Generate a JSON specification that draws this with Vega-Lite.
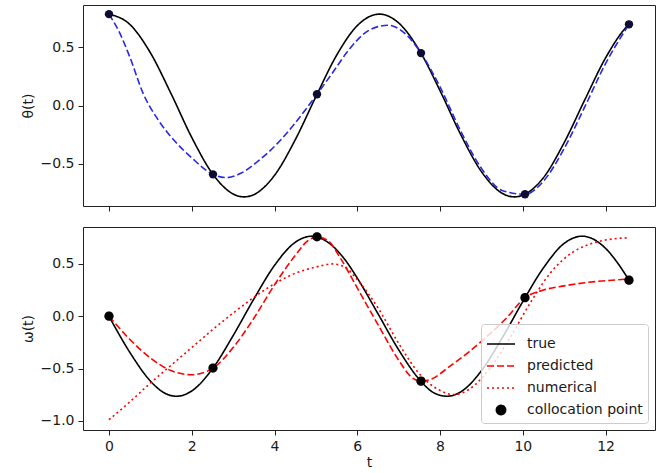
{
  "$schema": "https://vega.github.io/schema/vega-lite/v6.json",
  "padding": {"left": 20, "top": 4, "right": 1, "bottom": 0},
  "spacing": 14,
  "datasets": {
    "theta": [
      {"t": 0, "v": 0.7855, "series": "true"},
      {"t": 0.5, "v": 0.6984, "series": "true"},
      {"t": 1.0, "v": 0.4535, "series": "true"},
      {"t": 1.5, "v": 0.102, "series": "true"},
      {"t": 2.0, "v": -0.2744, "series": "true"},
      {"t": 2.5, "v": -0.5853, "series": "true"},
      {"t": 3.0, "v": -0.7608, "series": "true"},
      {"t": 3.267, "v": -0.7855, "series": "true"},
      {"t": 3.5, "v": -0.7664, "series": "true"},
      {"t": 4.0, "v": -0.6005, "series": "true"},
      {"t": 4.5, "v": -0.2954, "series": "true"},
      {"t": 5.0, "v": 0.076, "series": "true"},
      {"t": 5.5, "v": 0.4313, "series": "true"},
      {"t": 6.0, "v": 0.6863, "series": "true"},
      {"t": 6.534, "v": 0.7855, "series": "true"},
      {"t": 7.0, "v": 0.7097, "series": "true"},
      {"t": 7.5, "v": 0.4741, "series": "true"},
      {"t": 8.0, "v": 0.1277, "series": "true"},
      {"t": 8.5, "v": -0.2499, "series": "true"},
      {"t": 9.0, "v": -0.568, "series": "true"},
      {"t": 9.5, "v": -0.7543, "series": "true"},
      {"t": 9.801, "v": -0.7855, "series": "true"},
      {"t": 10.0, "v": -0.7713, "series": "true"},
      {"t": 10.5, "v": -0.6198, "series": "true"},
      {"t": 11.0, "v": -0.3193, "series": "true"},
      {"t": 11.5, "v": 0.05, "series": "true"},
      {"t": 12.0, "v": 0.4089, "series": "true"},
      {"t": 12.5, "v": 0.6738, "series": "true"},
      {"t": 12.566, "v": 0.6978, "series": "true"},
      {"t": 0, "v": 0.785, "series": "predicted"},
      {"t": 0.25, "v": 0.63, "series": "predicted"},
      {"t": 0.5, "v": 0.42, "series": "predicted"},
      {"t": 0.83, "v": 0.1, "series": "predicted"},
      {"t": 1.2, "v": -0.13, "series": "predicted"},
      {"t": 1.6, "v": -0.31, "series": "predicted"},
      {"t": 2.0, "v": -0.45, "series": "predicted"},
      {"t": 2.513, "v": -0.592, "series": "predicted"},
      {"t": 2.85, "v": -0.62, "series": "predicted"},
      {"t": 3.2, "v": -0.58, "series": "predicted"},
      {"t": 3.63, "v": -0.47, "series": "predicted"},
      {"t": 4.06, "v": -0.33, "series": "predicted"},
      {"t": 4.5, "v": -0.15, "series": "predicted"},
      {"t": 5.027, "v": 0.0965, "series": "predicted"},
      {"t": 5.4, "v": 0.28, "series": "predicted"},
      {"t": 5.8, "v": 0.48, "series": "predicted"},
      {"t": 6.3, "v": 0.65, "series": "predicted"},
      {"t": 6.75, "v": 0.69, "series": "predicted"},
      {"t": 7.15, "v": 0.62, "series": "predicted"},
      {"t": 7.54, "v": 0.45, "series": "predicted"},
      {"t": 8.0, "v": 0.16, "series": "predicted"},
      {"t": 8.5, "v": -0.22, "series": "predicted"},
      {"t": 9.0, "v": -0.54, "series": "predicted"},
      {"t": 9.5, "v": -0.73, "series": "predicted"},
      {"t": 10.053, "v": -0.763, "series": "predicted"},
      {"t": 10.5, "v": -0.65, "series": "predicted"},
      {"t": 11.0, "v": -0.37, "series": "predicted"},
      {"t": 11.5, "v": -0.01, "series": "predicted"},
      {"t": 12.0, "v": 0.36, "series": "predicted"},
      {"t": 12.566, "v": 0.698, "series": "predicted"}
    ],
    "omega": [
      {"t": 0, "v": 0, "series": "true"},
      {"t": 0.5, "v": -0.3431, "series": "true"},
      {"t": 1.0, "v": -0.6196, "series": "true"},
      {"t": 1.3, "v": -0.7247, "series": "true"},
      {"t": 1.633, "v": -0.7653, "series": "true"},
      {"t": 2.0, "v": -0.7149, "series": "true"},
      {"t": 2.5, "v": -0.5031, "series": "true"},
      {"t": 3.0, "v": -0.1856, "series": "true"},
      {"t": 3.5, "v": 0.1638, "series": "true"},
      {"t": 4.0, "v": 0.4859, "series": "true"},
      {"t": 4.5, "v": 0.7065, "series": "true"},
      {"t": 4.9, "v": 0.7653, "series": "true"},
      {"t": 5.3, "v": 0.7037, "series": "true"},
      {"t": 5.7, "v": 0.5420, "series": "true"},
      {"t": 6.0, "v": 0.3648, "series": "true"},
      {"t": 6.5, "v": 0.0242, "series": "true"},
      {"t": 7.0, "v": -0.321, "series": "true"},
      {"t": 7.5, "v": -0.6045, "series": "true"},
      {"t": 7.85, "v": -0.7325, "series": "true"},
      {"t": 8.167, "v": -0.7653, "series": "true"},
      {"t": 8.5, "v": -0.7237, "series": "true"},
      {"t": 9.0, "v": -0.5216, "series": "true"},
      {"t": 9.5, "v": -0.2092, "series": "true"},
      {"t": 10.0, "v": 0.1398, "series": "true"},
      {"t": 10.5, "v": 0.4627, "series": "true"},
      {"t": 11.0, "v": 0.6962, "series": "true"},
      {"t": 11.434, "v": 0.7653, "series": "true"},
      {"t": 12.0, "v": 0.6489, "series": "true"},
      {"t": 12.3, "v": 0.5045, "series": "true"},
      {"t": 12.566, "v": 0.3443, "series": "true"},
      {"t": 0, "v": 0, "series": "predicted"},
      {"t": 0.5, "v": -0.22, "series": "predicted"},
      {"t": 1.0, "v": -0.4, "series": "predicted"},
      {"t": 1.5, "v": -0.52, "series": "predicted"},
      {"t": 2.0, "v": -0.56, "series": "predicted"},
      {"t": 2.513, "v": -0.496, "series": "predicted"},
      {"t": 3.0, "v": -0.3, "series": "predicted"},
      {"t": 3.5, "v": -0.02, "series": "predicted"},
      {"t": 4.0, "v": 0.3, "series": "predicted"},
      {"t": 4.5, "v": 0.58, "series": "predicted"},
      {"t": 4.8, "v": 0.72, "series": "predicted"},
      {"t": 5.027, "v": 0.759, "series": "predicted"},
      {"t": 5.3, "v": 0.72, "series": "predicted"},
      {"t": 5.6, "v": 0.55, "series": "predicted"},
      {"t": 6.0, "v": 0.27, "series": "predicted"},
      {"t": 6.5, "v": -0.08, "series": "predicted"},
      {"t": 7.0, "v": -0.42, "series": "predicted"},
      {"t": 7.3, "v": -0.58, "series": "predicted"},
      {"t": 7.54, "v": -0.622, "series": "predicted"},
      {"t": 7.8, "v": -0.6, "series": "predicted"},
      {"t": 8.2, "v": -0.49, "series": "predicted"},
      {"t": 8.7, "v": -0.34, "series": "predicted"},
      {"t": 9.2, "v": -0.17, "series": "predicted"},
      {"t": 9.6, "v": -0.02, "series": "predicted"},
      {"t": 10.053, "v": 0.177, "series": "predicted"},
      {"t": 10.5, "v": 0.25, "series": "predicted"},
      {"t": 11.0, "v": 0.29, "series": "predicted"},
      {"t": 11.5, "v": 0.32, "series": "predicted"},
      {"t": 12.0, "v": 0.34, "series": "predicted"},
      {"t": 12.566, "v": 0.355, "series": "predicted"},
      {"t": 0, "v": -0.99, "series": "numerical"},
      {"t": 0.5, "v": -0.82, "series": "numerical"},
      {"t": 1.0, "v": -0.64, "series": "numerical"},
      {"t": 1.5, "v": -0.47, "series": "numerical"},
      {"t": 2.0, "v": -0.3, "series": "numerical"},
      {"t": 2.5, "v": -0.13, "series": "numerical"},
      {"t": 3.0, "v": 0.03, "series": "numerical"},
      {"t": 3.5, "v": 0.18, "series": "numerical"},
      {"t": 4.0, "v": 0.31, "series": "numerical"},
      {"t": 4.5, "v": 0.41, "series": "numerical"},
      {"t": 5.0, "v": 0.47, "series": "numerical"},
      {"t": 5.4, "v": 0.5, "series": "numerical"},
      {"t": 5.7, "v": 0.47, "series": "numerical"},
      {"t": 6.0, "v": 0.35, "series": "numerical"},
      {"t": 6.5, "v": 0.08, "series": "numerical"},
      {"t": 7.0, "v": -0.26, "series": "numerical"},
      {"t": 7.5, "v": -0.55, "series": "numerical"},
      {"t": 8.0, "v": -0.71, "series": "numerical"},
      {"t": 8.35, "v": -0.75, "series": "numerical"},
      {"t": 8.7, "v": -0.7, "series": "numerical"},
      {"t": 9.2, "v": -0.5, "series": "numerical"},
      {"t": 9.7, "v": -0.2, "series": "numerical"},
      {"t": 10.2, "v": 0.14, "series": "numerical"},
      {"t": 10.7, "v": 0.43, "series": "numerical"},
      {"t": 11.2, "v": 0.61, "series": "numerical"},
      {"t": 11.7, "v": 0.7, "series": "numerical"},
      {"t": 12.2, "v": 0.74, "series": "numerical"},
      {"t": 12.566, "v": 0.75, "series": "numerical"}
    ],
    "coll": [
      {"t": 0, "theta": 0.7855, "omega": 0, "series": "collocation point"},
      {"t": 2.5133, "theta": -0.5919, "omega": -0.4957, "series": "collocation point"},
      {"t": 5.0265, "theta": 0.0965, "omega": 0.7592, "series": "collocation point"},
      {"t": 7.5398, "theta": 0.4504, "omega": -0.6217, "series": "collocation point"},
      {"t": 10.0531, "theta": -0.763, "omega": 0.1769, "series": "collocation point"},
      {"t": 12.5664, "theta": 0.6978, "omega": 0.3443, "series": "collocation point"}
    ]
  },
  "vconcat": [
    {
      "width": 572,
      "height": 201,
      "layer": [
        {
          "data": {"name": "theta"},
          "mark": {"type": "line", "strokeWidth": 1.6, "interpolate": "monotone"},
          "encoding": {
            "x": {"field": "t", "type": "quantitative", "scale": {"domain": [-0.628, 13.195], "nice": false, "zero": false}, "axis": {"values": [0, 2, 4, 6, 8, 10, 12], "labels": false, "title": null}},
            "y": {"field": "v", "type": "quantitative", "scale": {"domain": [-0.864, 0.864], "nice": false, "zero": false}, "axis": {"values": [-0.5, 0, 0.5], "format": ".1f", "title": "θ(t)"}},
            "color": {"field": "series", "type": "nominal", "scale": {"domain": ["true", "predicted"], "range": ["#000000", "#2828e6"]}, "legend": null},
            "strokeDash": {"field": "series", "type": "nominal", "scale": {"domain": ["true", "predicted"], "range": [[1, 0], [7, 3]]}, "legend": null}
          }
        },
        {
          "data": {"name": "coll"},
          "mark": {"type": "point", "filled": true, "opacity": 1, "size": 70, "color": "#0d0d33"},
          "encoding": {
            "x": {"field": "t", "type": "quantitative"},
            "y": {"field": "theta", "type": "quantitative"}
          }
        }
      ]
    },
    {
      "width": 572,
      "height": 203,
      "layer": [
        {
          "data": {"name": "omega"},
          "mark": {"type": "line", "strokeWidth": 1.6, "interpolate": "monotone"},
          "encoding": {
            "x": {"field": "t", "type": "quantitative", "scale": {"domain": [-0.628, 13.195], "nice": false, "zero": false}, "axis": {"values": [0, 2, 4, 6, 8, 10, 12], "format": "d", "title": "t", "titlePadding": 2}},
            "y": {"field": "v", "type": "quantitative", "scale": {"domain": [-1.088, 0.853], "nice": false, "zero": false}, "axis": {"values": [-1, -0.5, 0, 0.5], "format": ".1f", "title": "ω(t)"}},
            "color": {"field": "series", "type": "nominal", "scale": {"domain": ["true", "predicted", "numerical", "collocation point"], "range": ["#000000", "#ff0000", "#ff0000", "#000000"]}, "legend": {"title": null}},
            "strokeDash": {"field": "series", "type": "nominal", "scale": {"domain": ["true", "predicted", "numerical", "collocation point"], "range": [[1, 0], [7, 3], [2, 3], [1, 0]]}, "legend": {"title": null}}
          }
        },
        {
          "data": {"name": "coll"},
          "mark": {"type": "point", "filled": true, "opacity": 1, "size": 784},
          "encoding": {
            "x": {"field": "t", "type": "quantitative"},
            "y": {"field": "omega", "type": "quantitative"},
            "color": {"field": "series", "type": "nominal", "legend": {"title": null}},
            "shape": {"field": "series", "type": "nominal", "scale": {"domain": ["true", "predicted", "numerical", "collocation point"], "range": ["stroke", "stroke", "stroke", "M0.33,0A0.33,0.33,0,1,1,-0.33,0A0.33,0.33,0,1,1,0.33,0Z"]}, "legend": {"title": null}}
          }
        }
      ]
    }
  ],
  "resolve": {
    "scale": {"color": "independent", "strokeDash": "independent", "shape": "independent"},
    "legend": {"color": "independent", "strokeDash": "independent", "shape": "independent"}
  },
  "config": {
    "font": "DejaVu Sans",
    "view": {"stroke": "#222222", "strokeWidth": 1},
    "axis": {
      "domain": false,
      "grid": false,
      "tickSize": 5,
      "tickColor": "#222222",
      "labelFontSize": 14,
      "labelColor": "#1a1a1a",
      "labelFont": "DejaVu Sans",
      "labelFlush": false,
      "titleFontSize": 14,
      "titleFontWeight": "normal",
      "titleColor": "#1a1a1a",
      "titleFont": "DejaVu Sans",
      "labelPadding": 4,
      "titlePadding": 5
    },
    "legend": {
      "orient": "bottom-right",
      "offset": 7,
      "padding": 5,
      "fillColor": "rgba(255,255,255,0.8)",
      "strokeColor": "#cccccc",
      "cornerRadius": 3,
      "labelFontSize": 14,
      "labelFont": "DejaVu Sans",
      "labelColor": "#1a1a1a",
      "labelOffset": 11,
      "symbolSize": 784,
      "symbolStrokeWidth": 1.6,
      "rowPadding": -1
    }
  }
}
